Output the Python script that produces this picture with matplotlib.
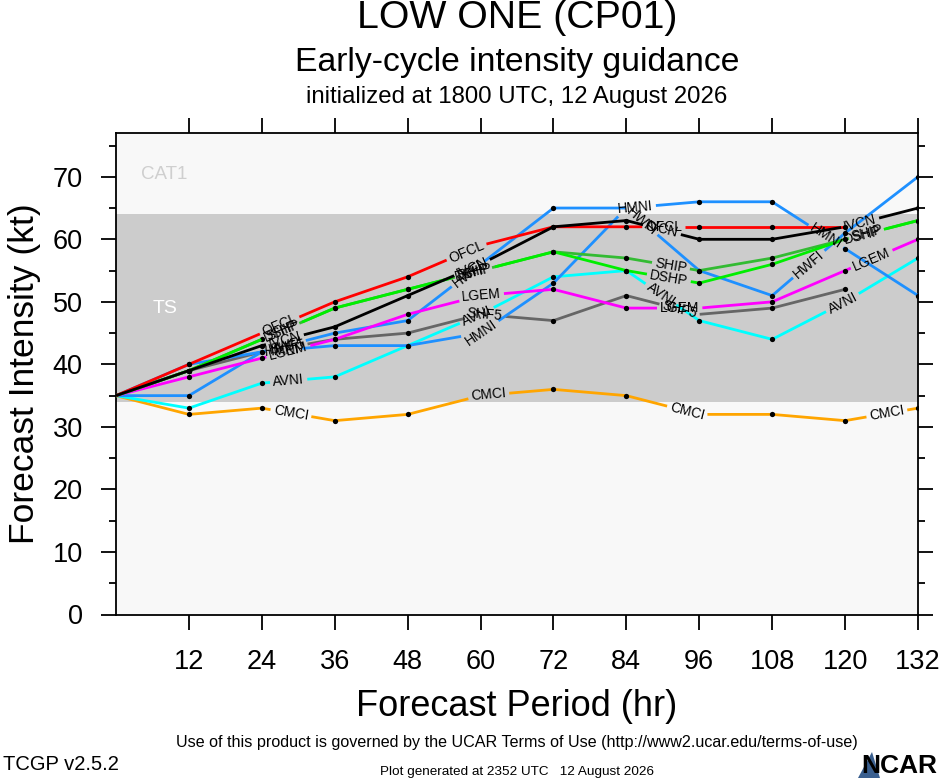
import numpy as np
import matplotlib
matplotlib.use("Agg")
import matplotlib.pyplot as plt
from matplotlib.patches import Polygon

plt.rcParams['font.family'] = ['Liberation Sans', 'DejaVu Sans']

# ---------------- data ----------------
hours = [0, 12, 24, 36, 48, 60, 72, 84, 96, 108, 120, 132]
tick_hours = [12, 24, 36, 48, 60, 72, 84, 96, 108, 120, 132]
y_ticks = [0, 10, 20, 30, 40, 50, 60, 70]

OFCL = [35, 40, 45, 50, 54, 59, 62, 62, 62, 62, 62]
IVCN = [35, 39, 43, 46, 51, 56, 62, 63, 60, 60, 62, 65]
SHIP = [35, 39, 44, 49, 52, 55, 58, 57, 55, 57, 60, 63]
DSHP = [35, 39, 44, 49, 52, 55, 58, 55, 53, 56, 60, 63]
LGEM = [35, 38, 41, 44, 48, 51, 52, 49, 49, 50, 55, 60]
SHF5 = [35, 39, 42, 44, 45, 48, 47, 51, 48, 49, 52]
HWFI = [35, 40, 42, 45, 47, 56, 65, 65, 55, 51, 61, 70]
HMNI = [35, 35, 42, 43, 43, 45, 53, 65, 66, 66, 58.5, 51]
AVNI = [35, 33, 37, 38, 43, 48, 54, 55, 47, 44, 50, 57]
CMCI = [35, 32, 33, 31, 32, 35, 36, 35, 32, 32, 31, 33]

models = [
    ("CMCI", CMCI, "#ffa500"),
    ("AVNI", AVNI, "#00ffff"),
    ("SHF5", SHF5, "#666666"),
    ("HMNI", HMNI, "#1e90ff"),
    ("HWFI", HWFI, "#1e90ff"),
    ("LGEM", LGEM, "#ff00ff"),
    ("SHIP", SHIP, "#33bb33"),
    ("DSHP", DSHP, "#00ee00"),
    ("OFCL", OFCL, "#ff0000"),
    ("IVCN", IVCN, "#000000"),
]

ts_band = (34, 64)

# ---------------- figure ----------------
W, H = 940, 780
fig = plt.figure(figsize=(W / 100, H / 100), dpi=100)
fig.patch.set_facecolor("white")
ax = fig.add_axes([116 / W, 1 - 614.5 / H, (918 - 116) / W, (614.5 - 133) / H])
ax.set_xlim(0, 132)
ax.set_ylim(0, 77)
ax.set_facecolor("#f8f8f8")
ax.axhspan(ts_band[0], ts_band[1], color="#cccccc", zorder=0, lw=0)

ax.text(8.0, 70.3, "CAT1", color="#cfcfcf", fontsize=13.5, ha="center", va="center", zorder=1)
ax.text(8.0, 49.0, "TS", color="white", fontsize=14, ha="center", va="center", zorder=1)

ax.set_xticks(tick_hours)
ax.set_xticklabels([str(h) for h in tick_hours])
ax.set_yticks(y_ticks)
ax.set_yticklabels([str(v) for v in y_ticks])
ax.set_yticks(np.arange(5, 77, 10), minor=True)
for sp in ax.spines.values():
    sp.set_linewidth(1.3)
ax.tick_params(axis="both", which="major", direction="out", length=11, width=1.3,
               labelsize=19.5, color="black")
ax.tick_params(axis="x", which="major", top=True, pad=14)
ax.tick_params(axis="y", which="major", right=True, pad=13)
ax.tick_params(axis="y", which="minor", direction="out", length=5, width=1.3, right=True)

# ---------------- lines with in-line labels ----------------
fig.canvas.draw()
renderer = fig.canvas.get_renderer()
S0, SPACING, FS = 178.0, 201.0, 10.0
inv = ax.transData.inverted()

def text_width(name):
    t = ax.text(0, 0, name, fontsize=FS)
    w = t.get_window_extent(renderer).width
    t.remove()
    return w

for k, (name, vals, color) in enumerate(models):
    z = 5 + k
    x = np.array(hours[:len(vals)], float)
    y = np.array(vals, float)
    pts = ax.transData.transform(np.column_stack([x, y]))
    seg = np.hypot(np.diff(pts[:, 0]), np.diff(pts[:, 1]))
    cum = np.concatenate([[0.0], np.cumsum(seg)])
    total = cum[-1]

    def at(s):
        i = int(np.clip(np.searchsorted(cum, s, side="right") - 1, 0, len(seg) - 1))
        f = (s - cum[i]) / seg[i]
        return pts[i] + f * (pts[i + 1] - pts[i]), i

    w = text_width(name)
    gaps = []
    s = S0
    while s < total:
        p, i = at(s)
        ang = np.degrees(np.arctan2(pts[i + 1, 1] - pts[i, 1], pts[i + 1, 0] - pts[i, 0]))
        dp = inv.transform(p)
        ax.text(dp[0], dp[1], name, rotation=ang, rotation_mode="anchor",
                ha="center", va="center", fontsize=FS, color="black", zorder=60)
        gaps.append((s - w / 2 - 3, s + w / 2 + 3))
        s += SPACING

    intervals = []
    start = 0.0
    for a, b in gaps:
        if a > start:
            intervals.append((start, min(a, total)))
        start = max(start, b)
    if start < total:
        intervals.append((start, total))
    for a, b in intervals:
        pa, _ = at(a)
        pb, _ = at(b)
        inner = [pts[j] for j in range(len(pts)) if a < cum[j] < b]
        poly = np.vstack([pa] + inner + [pb])
        d = inv.transform(poly)
        ax.plot(d[:, 0], d[:, 1], color=color, lw=2.0, solid_capstyle="butt", zorder=z)

    keep = [j for j in range(1, len(pts)) if not any(a <= cum[j] <= b for a, b in gaps)]
    ax.plot(x[keep], y[keep], "o", color="black", ms=3.8, mew=0, zorder=z + 0.5)

# ---------------- texts ----------------
cx = (116 + 918) / 2 / W
fig.text(cx, 1 - 18 / H, "LOW ONE (CP01)", ha="center", va="center", fontsize=28.3)
fig.text(cx, 1 - 62 / H, "Early-cycle intensity guidance", ha="center", va="center", fontsize=24.3)
fig.text(cx, 1 - 97 / H, "initialized at 1800 UTC, 12 August 2026", ha="center", va="center", fontsize=17.3)
fig.text(25 / W, 1 - 374 / H, "Forecast Intensity (kt)", rotation=90, ha="center", va="center", fontsize=25.5)
fig.text(cx, 1 - 706 / H, "Forecast Period (hr)", ha="center", va="center", fontsize=26)
fig.text(cx, 1 - 743 / H, "Use of this product is governed by the UCAR Terms of Use (http://www2.ucar.edu/terms-of-use)",
         ha="center", va="center", fontsize=11.6)
fig.text(3 / W, 1 - 765 / H, "TCGP v2.5.2", ha="left", va="center", fontsize=14.5)
fig.text(cx, 1 - 772 / H, "Plot generated at 2352 UTC   12 August 2026", ha="center", va="center", fontsize=9.7)

# NCAR logo (approximation)
fig.patches.append(Polygon([[858 / W, 1 - 778 / H], [872 / W, 1 - 752 / H], [880 / W, 1 - 778 / H]],
                           closed=True, transform=fig.transFigure, facecolor="#3a5f8f", edgecolor="none"))
fig.text(937 / W, 1 - 766 / H, "NCAR", ha="right", va="center", fontsize=19, fontweight="bold")

fig.savefig("out.png", dpi=100)
